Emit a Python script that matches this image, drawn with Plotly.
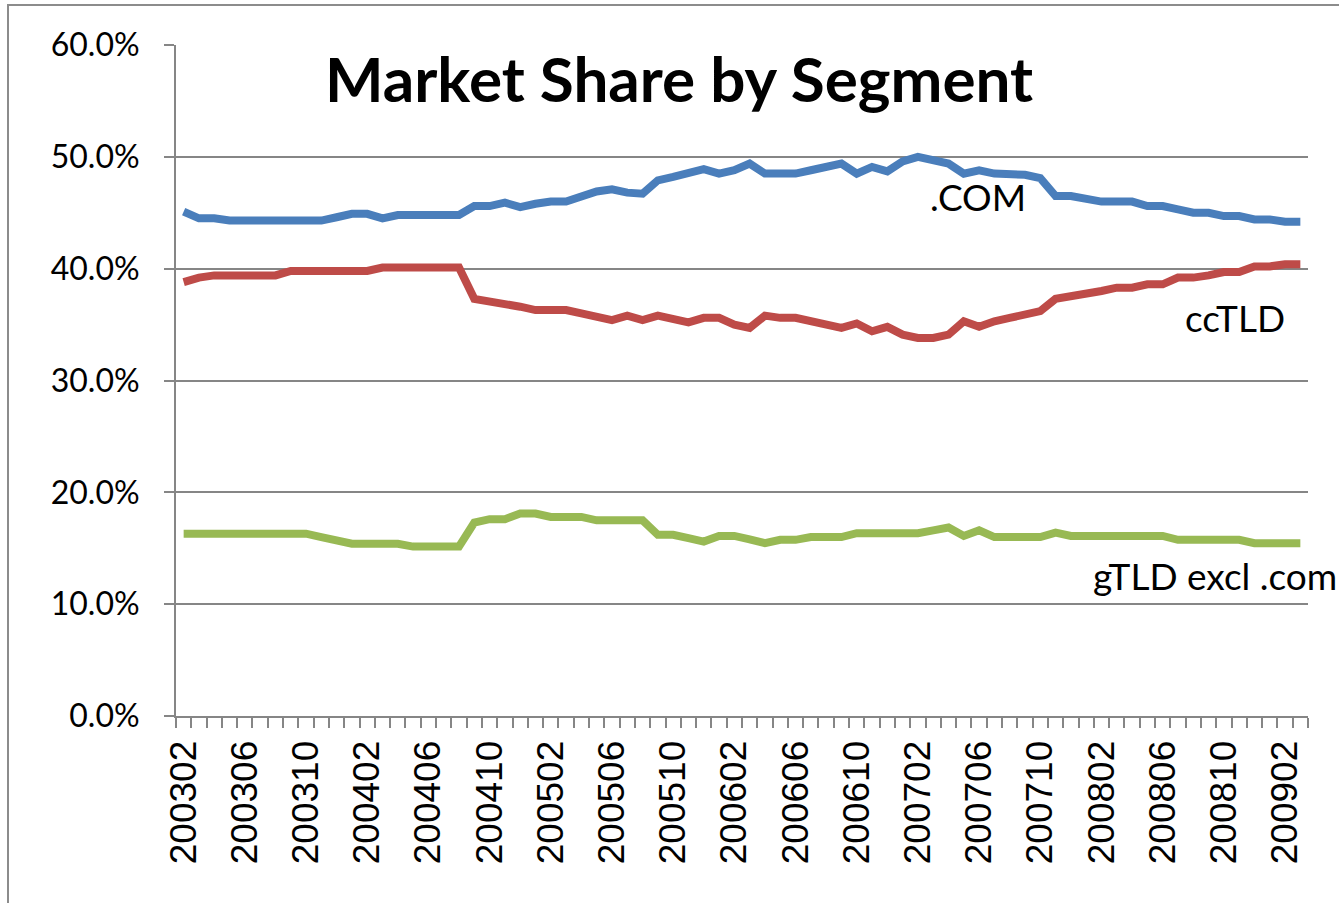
import plotly.graph_objects as go

# Months 200302 .. 200903
months = []
y, m = 2003, 2
while (y, m) <= (2009, 3):
    months.append(f"{y}{m:02d}")
    m += 1
    if m > 12:
        m = 1
        y += 1

tick_labels = [mo if i % 4 == 0 else "" for i, mo in enumerate(months)]

com = [45.1, 44.5, 44.5, 44.3, 44.3, 44.3, 44.3, 44.3, 44.3, 44.3,
       44.6, 44.9, 44.9, 44.5, 44.8, 44.8, 44.8, 44.8, 44.8, 45.6,
       45.6, 45.9, 45.5, 45.8, 46.0, 46.0, 46.4, 46.9, 47.1, 46.8,
       46.7, 47.9, 48.2, 48.6, 48.9, 48.5, 48.8, 49.4, 48.5, 48.5,
       48.5, 48.8, 49.1, 49.4, 48.5, 49.1, 48.7, 49.6, 50.0, 49.7,
       49.4, 48.5, 48.8, 48.5, 48.4, 48.4, 48.1, 46.5, 46.5, 46.2,
       46.0, 46.0, 46.0, 45.6, 45.6, 45.3, 45.0, 45.0, 44.7, 44.7,
       44.4, 44.4, 44.2, 44.2]

cctld = [38.8, 39.2, 39.4, 39.4, 39.4, 39.4, 39.4, 39.8, 39.8, 39.8,
         39.8, 39.8, 39.8, 40.1, 40.1, 40.1, 40.1, 40.1, 40.1, 37.3,
         37.1, 36.8, 36.6, 36.3, 36.3, 36.3, 36.0, 35.75, 35.4, 35.8,
         35.4, 35.8, 35.5, 35.2, 35.6, 35.6, 35.0, 34.7, 35.8, 35.6,
         35.6, 35.3, 35.0, 34.7, 35.1, 34.4, 34.8, 34.1, 33.8, 33.8,
         34.1, 35.3, 34.8, 35.3, 35.6, 35.9, 36.2, 37.3, 37.5, 37.8,
         38.0, 38.3, 38.3, 38.6, 38.6, 39.2, 39.2, 39.4, 39.7, 39.7,
         40.2, 40.2, 40.4, 40.4]

gtld = [16.3, 16.3, 16.3, 16.3, 16.3, 16.3, 16.3, 16.3, 16.3, 16.0,
        15.7, 15.4, 15.4, 15.4, 15.4, 15.15, 15.15, 15.15, 15.15, 17.3,
        17.6, 17.6, 18.1, 18.1, 17.8, 17.8, 17.8, 17.5, 17.5, 17.5,
        17.5, 16.2, 16.2, 15.9, 15.6, 16.1, 16.1, 15.8, 15.45, 15.75,
        15.75, 16.0, 16.0, 16.0, 16.35, 16.35, 16.35, 16.35, 16.35, 16.6,
        16.85, 16.1, 16.6, 16.0, 16.0, 16.0, 16.0, 16.4, 16.1, 16.1,
        16.1, 16.1, 16.1, 16.1, 16.1, 15.75, 15.75, 15.75, 15.75, 15.75,
        15.45, 15.45, 15.45, 15.45]

series_names = [".COM", "ccTLD", "gTLD excl .com"]
series_values = [com, cctld, gtld]
colors = ["#4A7EBB", "#BE4B48", "#98B954"]

GRAY = "#868686"

fig = go.Figure()
for name, vals, col in zip(series_names, series_values, colors):
    fig.add_trace(go.Scatter(
        x=months, y=[v / 100 for v in vals], mode="lines", name=name,
        line=dict(color=col, width=8), showlegend=False,
    ))

W, H = 1339, 903
ML, MR, MT, MB = 176, 31, 45, 187
pw, ph = W - ML - MR, H - MT - MB

def px_x(p):
    return (p - ML) / pw

def px_y(p):
    return (H - MB - p) / ph

fig.update_layout(
    width=W, height=H,
    margin=dict(l=ML, r=MR, t=MT, b=MB, pad=0),
    paper_bgcolor="white", plot_bgcolor="white",
    xaxis=dict(
        type="category", categoryorder="array", categoryarray=months,
        tickmode="array", tickvals=months, ticktext=tick_labels,
        tickson="boundaries", ticks="outside", ticklen=10, tickwidth=2,
        tickcolor=GRAY, showline=True, linecolor=GRAY, linewidth=2,
        showgrid=False, tickangle=-90,
        tickfont=dict(family="Liberation Sans", size=37, color="black"),
        ticklabelstandoff=8,
        range=[-0.5, len(months) - 0.5],
    ),
    yaxis=dict(
        range=[0, 0.6], dtick=0.1, tickformat=".1%",
        showgrid=True, gridcolor=GRAY, gridwidth=2,
        showline=True, linecolor=GRAY, linewidth=2,
        ticks="outside", ticklen=10, tickwidth=2, tickcolor=GRAY,
        tickfont=dict(family="Lato", size=32, color="black"),
        ticklabelstandoff=18, zeroline=False,
    ),
)

# outer chart frame (left and top edges visible)
fig.add_shape(type="rect", xref="paper", yref="paper",
              x0=px_x(8), x1=px_x(1360), y0=px_y(930), y1=px_y(5),
              line=dict(color="#8C8C8C", width=2), fillcolor="rgba(0,0,0,0)",
              layer="below")

fig.add_annotation(text="<b>Market Share by Segment</b>", xref="paper", yref="paper",
                   x=px_x(679), y=px_y(78), xanchor="center", yanchor="middle",
                   showarrow=False, font=dict(family="Lato", size=62, color="black"))

label_pos = [(978, 196), (1235, 318), (1215, 575)]
for name, (lx, ly) in zip(series_names, label_pos):
    fig.add_annotation(text=name, xref="paper", yref="paper",
                       x=px_x(lx), y=px_y(ly), xanchor="center", yanchor="middle",
                       showarrow=False, font=dict(family="Lato", size=37, color="black"))

fig.write_html("out.html", config={"displayModeBar": False},
               post_script="document.body.style.margin='0';document.body.style.overflow='hidden';")
